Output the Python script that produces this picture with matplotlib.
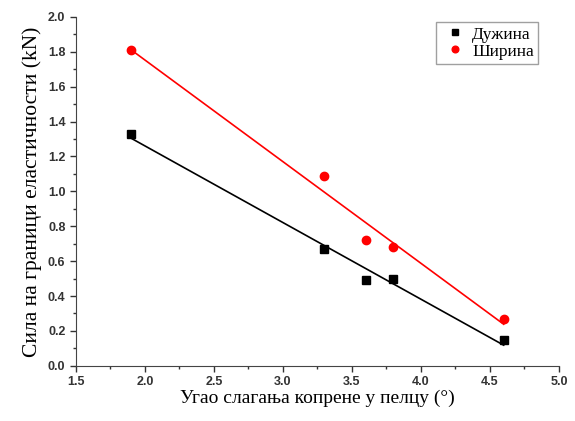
import numpy as np
import matplotlib.pyplot as plt
from matplotlib.ticker import MultipleLocator

# Data
angle = [1.9, 3.3, 3.6, 3.8, 4.6]
length_force = [1.33, 0.67, 0.49, 0.50, 0.15]
width_force = [1.81, 1.09, 0.72, 0.68, 0.27]

fig = plt.figure(figsize=(5.75, 4.21), dpi=100)
ax = fig.add_axes([0.132, 0.131, 0.840, 0.829])

# Linear fits
for y, color in [(length_force, 'black'), (width_force, 'red')]:
    k, b = np.polyfit(angle, y, 1)
    xs = np.array([min(angle), max(angle)])
    ax.plot(xs, k * xs + b, color=color, linewidth=1.2)

ax.plot(angle, length_force, 's', color='black', markersize=6, label='Дужина')
ax.plot(angle, width_force, 'o', color='red', markersize=6, label='Ширина')

ax.set_xlim(1.5, 5.0)
ax.set_ylim(0.0, 2.0)
ax.xaxis.set_major_locator(MultipleLocator(0.5))
ax.xaxis.set_minor_locator(MultipleLocator(0.25))
ax.yaxis.set_major_locator(MultipleLocator(0.2))
ax.yaxis.set_minor_locator(MultipleLocator(0.1))
ax.tick_params(which='major', direction='out', length=4, width=1, labelsize=9, colors='#333333')
ax.tick_params(which='minor', direction='out', length=2, width=1, colors='#333333')
for lbl in ax.get_xticklabels() + ax.get_yticklabels():
    lbl.set_fontweight('bold')
    lbl.set_family('Liberation Sans')

ax.spines['top'].set_visible(False)
ax.spines['right'].set_visible(False)
ax.spines['left'].set_color('#444444')
ax.spines['bottom'].set_color('#444444')

ax.set_xlabel('Угао слагања копрене у пелцу (°)', family='Liberation Serif', fontsize=14, labelpad=1)
ax.set_ylabel('Сила на граници еластичности (kN)', family='Liberation Serif', fontsize=15.5, labelpad=4)

leg = ax.legend(loc='upper right', prop={'family': 'Liberation Serif', 'size': 12.5},
                handletextpad=0.2, handlelength=1.6, fancybox=False, edgecolor='#888888',
                borderpad=0.25, labelspacing=0.05, markerscale=0.8,
                bbox_to_anchor=(0.975, 1.01))

fig.savefig('out.png', dpi=100)
